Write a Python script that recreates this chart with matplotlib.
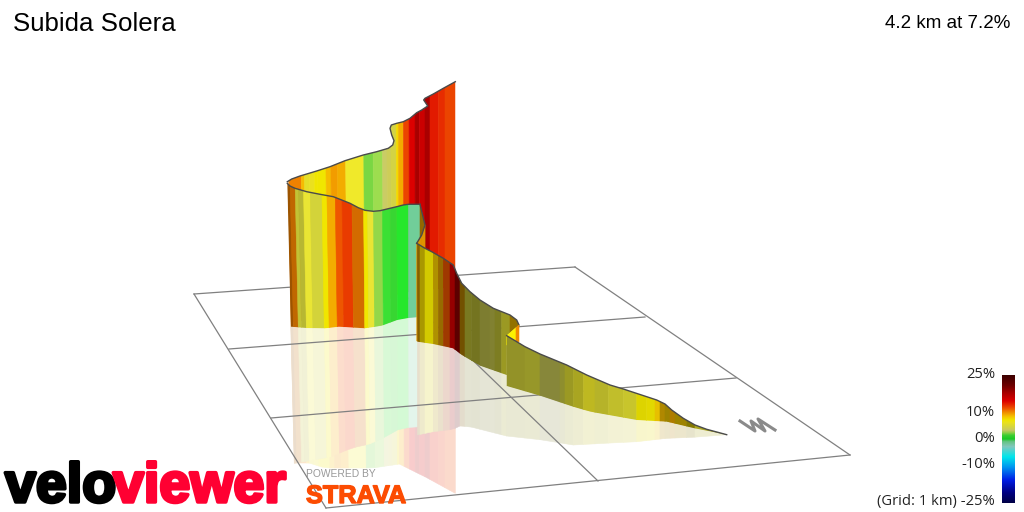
#!/usr/bin/env python3
# 3D climb profile, redrawn in screen pixels
import numpy as np
import matplotlib
matplotlib.use('Agg')
import matplotlib.pyplot as plt
import matplotlib.patheffects as pe
from matplotlib.patches import Polygon
from matplotlib.colors import LinearSegmentedColormap, Normalize

# gradient colour scale (percent, rgb)
scale_pct = [-25, -21, -16, -11, -7, -3, -1, 0, 1.5, 2.5, 3.5, 5, 6.5, 7.5, 9, 10.5, 12, 13.5, 15, 18, 21, 25]
scale_rgb = [(0, 0, 70), (0, 0, 130), (0, 30, 230), (0, 150, 240), (0, 230, 235), (130, 200, 190),
             (100, 195, 130), (25, 200, 35), (60, 205, 50), (140, 205, 70), (200, 200, 100), (215, 215, 60),
             (235, 225, 30), (240, 230, 0), (245, 190, 0), (240, 140, 0), (238, 85, 0), (230, 40, 0),
             (220, 0, 0), (170, 0, 0), (110, 0, 0), (60, 0, 0)]
legend_pct = [25, 10, 0, -10, -25]

# back wall (far side of the road)
back_top_x = [287.3, 291.7, 300, 316.7, 330, 345, 363.3, 376.7, 388.3, 392.7, 394, 391.7, 390, 391.3, 396.7, 403.3,
              410, 416.7, 421.7, 427.7, 423.7, 425, 433.3, 443.3, 455.3]
back_top_y = [181.7, 179, 176, 171, 166.7, 160.7, 155, 151.7, 148.3, 145, 140.7, 135, 128.3, 125, 123.3, 121.7,
              118.3, 112.7, 110, 106, 100, 98.3, 94, 88.3, 81.7]
back_base_x = [287.3, 320, 370, 400, 455.3]
back_base_y = [322, 319, 310, 293, 287]
back_mirror_x = [287.3, 303, 320, 370, 398.3, 425, 455.3]
back_mirror_y = [463, 463, 468, 468, 464, 476.7, 493.3]
back_edges = [287.3, 300, 303.3, 308.3, 313.3, 316.7, 325, 330, 336.7, 345, 363.3, 372.7, 382.3, 386.7, 390.7,
              396, 398.3, 403.3, 409, 415, 419.3, 425, 430, 438.3, 445, 450, 455.3]
back_grad = [10.8, 9, 6, 6.5, 7.5, 7.5, 9, 10, 9.5, 6, 2.2, 2.6, 3.5, 4, 4.6, 8, 9.5, 12.5, 15, 18, 16, 18, 14,
             13.3, 12.5, 12.5]
back_light = [1, 1, 1, 1, 1, 1, 1, 1, 1, 1.05, 1.05, 1.08, 1.02, 1, 1, 1, 1, 1, 1, 1, 1, 1, 1, 1, 1, 1]

# front wall
front_top_x = [287.3, 290, 295, 306.7, 320, 333.3, 341.7, 350, 358.3, 365, 373.3, 380, 390, 396.7, 403.3, 408.3, 420]
front_top_y = [183.3, 186, 188.3, 191.7, 194.3, 196.7, 200, 203.3, 207.7, 210.3, 211.3, 210.7, 208.3, 206.7, 205,
               204.3, 204.3]
front_base_x = [287.3, 303, 323, 336.7, 363, 380, 396.7, 408, 420]
front_base_y = [326.7, 328, 328.3, 326.7, 328.3, 326, 320, 318, 317]
front_mirror_x = [287.3, 306.7, 326.7, 346.7, 366.7, 383, 400, 410, 420]
front_mirror_y = [463.3, 460, 456.7, 448.3, 444, 437, 428, 427.3, 426.7]
front_edges = [287.3, 290, 295, 298.3, 303.3, 310, 321.7, 326.7, 335, 341.7, 351.7, 363.3, 367.3, 373.3, 382.3,
               390, 396.7, 408.3, 420]
front_grad = [10.8, 10.8, 5, 5, 5.5, 5, 7.5, 9.5, 12, 12.8, 11, 7.5, 5.5, 2.5, 1.2, 1.2, 0.3, -1.5]
front_light = [.65, .8, .9, .85, 1.05, .98, 1, 1, 1, 1, .88, 1, 1.05, 1.05, 1.1, 1.05, 1.15, 1.05]

# little turn between front wall and the descent
turn_x = [420, 425, 421.7, 416.7]
turn_top = [204.3, 225, 235, 243.3]
turn_base = [317, 317, 341, 341]
turn_grad = [9.5, 9.8, 9.8]
turn_light = [.6, .92, .92]

# descent, first part
mid_top_x = [416.7, 425, 431.7, 443.3, 453.3, 456.7, 461.7, 470, 480, 493.3, 510, 516.7, 519]
mid_top_y = [243.3, 248.3, 251.7, 258.3, 265, 273.3, 283.3, 291.7, 300, 308.3, 315, 320, 325]
mid_base_x = [417.3, 433, 453, 461.7, 480, 506.6, 506.7, 519]
mid_base_y = [341.7, 344, 348.3, 355, 365.7, 375, 336, 325]
mid_mirror_x = [417.3, 433, 453, 460, 470, 506.7]
mid_mirror_y = [435, 431.7, 429.3, 426, 426.7, 436]
mid_edges = [417.3, 420, 425, 433.3, 438.3, 443.3, 450, 455, 460, 465, 471.7, 480, 490, 495, 501.7, 506.6, 506.7, 510, 519]
mid_grad = [9.5, 8, 7.5, 8.5, 9.5, 12, 15, 15, 9.5, 5, 5, 4.2, 4.2, 5, 5.5, 5.5, 5.5, 9]
mid_light = [.55, .7, .88, .72, .62, .67, .68, .42, .47, .56, .54, .6, .62, .58, .7, .7, .7, .6]

# yellow fold behind the last part
fold_edges = [506.7, 516, 519]
fold_top = [335.7, 327.7, 325]
fold_base = [345, 343, 341.7]
fold_grad = [7.5, 10.5]
fold_light = [1.05, 1]

# descent, last part
end_top_x = [506.7, 525, 540, 566.7, 586.7, 610, 623.3, 656.7, 665, 671.7, 683.3, 695, 706.7, 726.7]
end_top_y = [335.7, 346.7, 354, 365, 375, 385, 389, 400, 404, 410, 418.3, 425, 429.3, 434.7]
end_base_x = [506.7, 540, 573, 590, 636.7, 666.7, 693, 726.7]
end_base_y = [386, 395.7, 406.7, 411.7, 420, 421.7, 428, 434.7]
end_mirror_x = [506.7, 543, 573, 610, 636.7, 666.7, 693, 726.7]
end_mirror_y = [436, 440, 445, 443, 441.7, 438.3, 437.3, 434.7]
end_edges = [506.7, 525, 540, 560, 565, 573.3, 583.3, 595, 608.3, 623.3, 636.7, 646.7, 655, 660, 665, 670, 675,
             686.7, 695, 726.7]
end_grad = [5, 5, 4, 4.6, 5.5, 5.8, 6, 5.5, 5.5, 5.5, 7.5, 7.5, 8.5, 9, 8.5, 9.5, 8.5, 8, 6]
end_light = [.68, .7, .66, .67, .7, .75, .83, .82, .87, .9, .92, .94, .95, .72, .65, .72, .65, .55, .75]

# ground grid, one pair of end points per line
grid_x = [[194, 575], [229, 645], [271, 736], [326, 850], [194, 326], [575, 850], [390, 598]]
grid_y = [[294, 267], [349, 317], [418, 378], [508, 455], [294, 508], [267, 455], [280.5, 481]]

# north marker
north_x = [740, 755, 751, 765, 758, 775]
north_y = [421, 431, 421, 431, 419, 430]

stops = [(p + 25) / 50 for p in scale_pct]
cmap = LinearSegmentedColormap.from_list(
    'gradient', [(s, tuple(c / 255 for c in rgb)) for s, rgb in zip(stops, scale_rgb)], N=512)
norm = Normalize(-25, 25)
LINE = '#4a4a4a'


def strip_colours(grad, light):
    cols = cmap(norm(np.array(grad, dtype=float)))[:, :3]
    return np.clip(cols * np.array(light, dtype=float)[:, None], 0, 1)


def lean(x):
    # verticals tilt slightly inwards on the left of the view
    return np.interp(x, [287, 420], [3.5, 0])


def draw_strips(ax, xe, y1, y2, cols, z, steps=0, alpha=None, clip=None):
    xe = np.asarray(xe, dtype=float)
    for i in range(len(xe) - 1):
        c = cols[i]
        if alpha is not None:
            c = c * alpha + (1 - alpha)
        xs = [xe[i] + lean(xe[i]) * steps, xe[i + 1] + lean(xe[i + 1]) * steps,
              xe[i + 1] + lean(xe[i + 1]) * (steps + 1), xe[i] + lean(xe[i]) * (steps + 1)]
        poly = ax.fill(xs, [y1[i], y1[i + 1], y2[i + 1], y2[i]], facecolor=c, edgecolor=c, linewidth=0.4, zorder=z)[0]
        if clip is not None:
            poly.set_clip_path(clip)


def draw_wall(ax, xe, top_x, top_y, base_x, base_y, grad, light, mirror_x, mirror_y, z):
    xe = np.array(xe, dtype=float)
    base = np.interp(xe, base_x, base_y)
    cols = strip_colours(grad, light)
    # wall outline, folds in the road included
    bx = np.array(base_x, dtype=float)
    outline = list(zip(top_x, top_y)) + list(zip((bx + lean(bx))[::-1], np.array(base_y)[::-1]))
    clip = Polygon(outline, closed=True, transform=ax.transData)
    high = np.full(len(xe), min(top_y) - 3.0)
    draw_strips(ax, xe, high, base, cols, z, clip=clip)
    ax.plot(top_x, top_y, color=LINE, lw=1.0, zorder=z + 0.5)
    keep = xe <= mirror_x[-1] + 0.01
    mirror = np.interp(xe[keep], mirror_x, mirror_y)
    draw_strips(ax, xe[keep], base[keep], mirror, cols, z - 20, steps=1, alpha=0.2)


fig = plt.figure(figsize=(10.24, 5.12), dpi=100)
ax = fig.add_axes([0, 0, 1, 1])
ax.set_xlim(0, 1024)
ax.set_ylim(512, 0)
ax.axis('off')

for gx, gy in zip(grid_x, grid_y):
    ax.plot(gx, gy, color='#808080', lw=0.9, zorder=15)

draw_wall(ax, back_edges, back_top_x, back_top_y, back_base_x, back_base_y, back_grad, back_light,
          back_mirror_x, back_mirror_y, 21)
draw_wall(ax, front_edges, front_top_x, front_top_y, front_base_x, front_base_y, front_grad, front_light,
          front_mirror_x, front_mirror_y, 23)
draw_strips(ax, turn_x, turn_top, turn_base, strip_colours(turn_grad, turn_light), 25)
ax.plot(turn_x, turn_top, color=LINE, lw=1.0, zorder=26)
draw_wall(ax, mid_edges, mid_top_x, mid_top_y, mid_base_x, mid_base_y, mid_grad, mid_light,
          mid_mirror_x, mid_mirror_y, 27)
draw_strips(ax, fold_edges, fold_top, fold_base, strip_colours(fold_grad, fold_light), 29)
draw_wall(ax, end_edges, end_top_x, end_top_y, end_base_x, end_base_y, end_grad, end_light,
          end_mirror_x, end_mirror_y, 30)

ax.plot(north_x, north_y, color='#8a8a8a', lw=2.2, zorder=15)

# colour bar
bar = np.linspace(25, -25, 256)[:, None]
ax.imshow(bar, cmap=cmap, norm=norm, extent=(1002, 1015, 503, 375), aspect='auto', zorder=10)
ax.set_xlim(0, 1024)
ax.set_ylim(512, 0)
for pct, yy in zip(legend_pct, [375, 413, 438, 464, 502]):
    label = f'{pct}%'
    if pct == -25:
        label = '(Grid: 1 km) ' + label
    ax.text(995, yy, label, ha='right', va='center', fontsize=10.6, family='Open Sans', color='#222222', zorder=40)

# titles
ax.text(13, 31, 'Subida Solera', fontsize=18.6, family='Liberation Sans', color='black', va='baseline', zorder=40)
ax.text(1010, 28, '4.2 km at 7.2%', fontsize=13.5, family='Liberation Sans', color='black', ha='right',
        va='baseline', zorder=40)

# logos
heavy = dict(family='Liberation Sans', weight='bold', fontsize=40, va='baseline', zorder=40)
ax.text(5, 502, 'velo', color='black',
        path_effects=[pe.withStroke(linewidth=2.5, foreground='black')], **heavy)
ax.text(113, 502, 'viewer', color='#ff0032',
        path_effects=[pe.withStroke(linewidth=2.5, foreground='#ff0032')], **heavy)
ax.text(306, 477, 'POWERED BY', color='#999999', fontsize=7.4, family='Liberation Sans', va='baseline', zorder=40)
ax.text(306, 503, 'STRAVA', color='#fc4c02', fontsize=18.2, family='Liberation Sans', weight='bold', va='baseline',
        path_effects=[pe.withStroke(linewidth=1.0, foreground='#fc4c02')], zorder=40)

fig.savefig('out.png', dpi=100, facecolor='white')
